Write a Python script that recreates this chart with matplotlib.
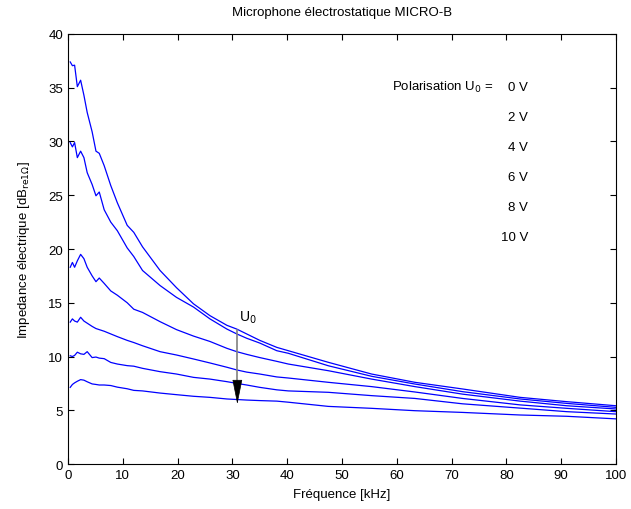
import matplotlib.pyplot as plt

plt.rcParams['font.family'] = ['Liberation Sans', 'DejaVu Sans']

freq = [0.4, 0.8, 1.2, 1.7, 2.3, 2.9, 3.5, 4.4, 5.1, 5.7, 6.6, 7.8, 9.0, 10.8,
        12.0, 13.6, 16.8, 19.8, 22.9, 25.9, 29.0, 30.8, 32.6, 35.0, 38.1, 40.2,
        47.5, 55.4, 63.3, 72.0, 82.5, 91.0, 100.0]

z0 = [37.4, 37.05, 37.1, 35.1, 35.7, 34.3, 32.7, 30.9, 29.1, 28.9, 27.75, 25.9,
      24.3, 22.2, 21.55, 20.2, 18.0, 16.4, 14.9, 13.8, 12.9, 12.55, 12.1, 11.5,
      10.85, 10.54, 9.46, 8.37, 7.6, 6.98, 6.2, 5.8, 5.42]
z2 = [29.9, 29.5, 29.9, 28.5, 29.1, 28.5, 27.1, 26.0, 24.95, 25.3, 23.65, 22.5,
      21.7, 20.1, 19.3, 18.0, 16.6, 15.5, 14.6, 13.5, 12.55, 12.1, 11.7, 11.25,
      10.54, 10.3, 9.14, 8.16, 7.44, 6.73, 6.05, 5.64, 5.27]
z4 = [18.3, 18.75, 18.3, 18.9, 19.5, 19.1, 18.3, 17.5, 16.96, 17.3, 16.8, 16.1,
      15.7, 15.0, 14.4, 14.1, 13.24, 12.5, 11.9, 11.4, 10.76, 10.45, 10.2, 9.9,
      9.55, 9.3, 8.68, 7.9, 7.2, 6.5, 5.85, 5.42, 5.12]
z6 = [13.2, 13.5, 13.3, 13.2, 13.65, 13.3, 13.1, 12.8, 12.6, 12.5, 12.35, 12.1,
      11.85, 11.5, 11.3, 11.0, 10.45, 10.14, 9.77, 9.4, 9.0, 8.75, 8.55, 8.37,
      8.1, 8.0, 7.6, 7.2, 6.7, 6.1, 5.5, 5.18, 4.87]
z8 = [10.07, 10.0, 10.1, 10.4, 10.25, 10.2, 10.45, 9.9, 9.95, 9.85, 9.8, 9.45,
      9.3, 9.15, 9.1, 8.9, 8.59, 8.37, 8.06, 7.9, 7.66, 7.5, 7.35, 7.13,
      6.9, 6.8, 6.67, 6.36, 6.1, 5.6, 5.2, 4.87, 4.65]
z10 = [7.13, 7.4, 7.55, 7.7, 7.85, 7.8, 7.65, 7.45, 7.4, 7.35, 7.35, 7.3,
       7.15, 7.0, 6.85, 6.8, 6.6, 6.45, 6.3, 6.2, 6.05, 6.0, 5.95, 5.9,
       5.85, 5.75, 5.36, 5.18, 4.96, 4.8, 4.56, 4.44, 4.2]

labels = ['0 V', '2 V', '4 V', '6 V', '8 V', '10 V']

fig = plt.figure(figsize=(6.31, 5.10), dpi=100)
ax = fig.add_axes([0.1078, 0.0882, 0.8684, 0.8432])

for z in [z0, z2, z4, z6, z8, z10]:
    ax.plot(freq, z, color='blue', linewidth=0.9)

ax.set_xlim(0, 100)
ax.set_ylim(0, 40)
ax.set_xticks(range(0, 101, 10))
ax.set_yticks(range(0, 41, 5))
ax.tick_params(direction='in', top=True, right=True, labelsize=9.5, length=4)
ax.set_xlabel('Fréquence [kHz]', fontsize=9.5, labelpad=5)
ax.set_ylabel(r'Impedance électrique [dB$_{\mathrm{re1\Omega}}$]', fontsize=9.5,
              labelpad=12)
ax.set_title('Microphone électrostatique MICRO-B', fontsize=9.5, pad=14)

# arrow U0 : grey shaft, black head
ax.plot([30.9, 30.9], [12.5, 7.0], color='gray', linewidth=1.2)
ax.annotate('', xy=(30.9, 5.3), xytext=(30.9, 7.4),
            arrowprops=dict(arrowstyle='-|>,head_length=0.8,head_width=0.16',
                            color='black', lw=0.5, mutation_scale=20,
                            fc='black', ec='black'))
ax.text(32.8, 13.7, 'U$_0$', fontsize=10, ha='center', va='center')

ax.text(59.2, 35.1, 'Polarisation U$_0$ =', fontsize=9.5, ha='left', va='center')
for i, lab in enumerate(labels):
    ax.text(84.0, 35.1 - 2.8 * i, lab, fontsize=9.5, ha='right', va='center')

fig.savefig('out.png', dpi=100)
